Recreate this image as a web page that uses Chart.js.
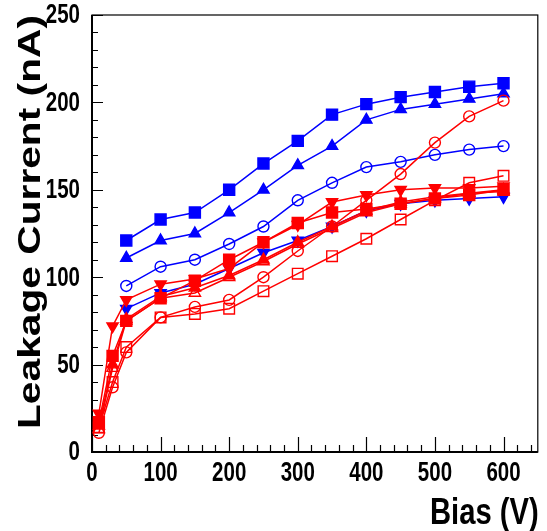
<!DOCTYPE html>
<html>
<head>
<meta charset="utf-8">
<script src="https://cdn.jsdelivr.net/npm/chart.js@4.4.1/dist/chart.umd.min.js"></script>
<style>
  html, body { margin: 0; padding: 0; background: #fff; }
  #wrap { width: 547px; height: 531px; position: relative; }
</style>
</head>
<body>
<div id="wrap"><canvas id="chart"></canvas></div>
<script>
// ---------------------------------------------------------------
// data
// ---------------------------------------------------------------
const biasV = [10, 30, 50, 100, 150, 200, 250, 300, 350, 400, 450, 500, 550, 600];

// blue sets (start at 50 V)
const blueFilledSquare = [null, null, 121, 133, 137, 150, 165, 178, 193, 199, 203, 206, 209, 211];
const blueFilledTri    = [null, null, 111, 121, 125, 137, 150, 164, 175, 190, 196, 199, 202, 205];
const blueOpenCircle   = [null, null, 95, 106, 110, 119, 129, 144, 154, 163, 166, 170, 173, 175];
const blueInvTri       = [null, null, 82, 91, 96, 105, 114, 121, 129, 138, 142, 144, 145, 146];

// red sets
const redInvTri      = [22, 72, 87, 96, 99, 105, 120, 130, 143, 147, 150, 151, 151, 152];
const redFilledSq    = [17, 55, 75, 88, 98, 110, 120, 131, 137, 139, 142, 145, 147, 150];
const redFilledTri   = [15, 50, 76, 89, 94, 101, 110, 120, 129, 138, 143, 146, 148, 150];
const redOpenTri     = [13, 48, 75, 88, 91, 100, 109, 119, 128, 137, 142, 145, 148, 149];
const redOpenCircle  = [11, 37, 57, 77, 83, 87, 100, 115, 129, 144, 159, 177, 192, 201];
const redOpenSquare  = [14, 40, 60, 77, 79, 82, 92, 102, 112, 122, 133, 144, 154, 158];

// axes
const xTickValues = [0, 100, 200, 300, 400, 500, 600];
const yTickValues = [0, 50, 100, 150, 200, 250];
const xTitle = 'Bias (V)';
const yTitle = 'Leakage Current (nA)';

const BLUE = '#0000ff';
const RED = '#ff0000';

function toPoints(arr) {
    return biasV.map((x, i) => ({ x: x, y: arr[i] })).filter(p => p.y !== null);
}

function makeSet(label, arr, color, style, filled, radius, rotation) {
    return {
        label: label,
        data: toPoints(arr),
        showLine: true,
        borderColor: color,
        borderWidth: 1.5,
        pointStyle: style,
        pointRadius: radius,
        pointRotation: rotation || 0,
        pointBorderColor: color,
        pointBorderWidth: 1.4,
        pointBackgroundColor: filled ? color : 'rgba(0,0,0,0)',
        fill: false,
        tension: 0
    };
}

// red first so it lands on top of blue
const datasets = [
    makeSet('red inv tri', redInvTri, RED, 'triangle', true, 6.5, 180),
    makeSet('red filled sq', redFilledSq, RED, 'rect', true, 7.8),
    makeSet('red filled tri', redFilledTri, RED, 'triangle', true, 6.5),
    makeSet('red open tri', redOpenTri, RED, 'triangle', false, 6.5),
    makeSet('red open circle', redOpenCircle, RED, 'circle', false, 5.5),
    makeSet('red open sq', redOpenSquare, RED, 'rect', false, 7.5),
    makeSet('blue filled sq', blueFilledSquare, BLUE, 'rect', true, 7.8),
    makeSet('blue filled tri', blueFilledTri, BLUE, 'triangle', true, 6.5),
    makeSet('blue open circle', blueOpenCircle, BLUE, 'circle', false, 5.5),
    makeSet('blue inv tri', blueInvTri, BLUE, 'triangle', true, 6.5, 180)
];

// draw text squeezed horizontally (condensed look)
function squeezedText(ctx, text, x, y, sx, align) {
    ctx.save();
    ctx.translate(x, y);
    ctx.scale(sx, 1);
    ctx.textAlign = align;
    ctx.fillText(text, 0, 0);
    ctx.restore();
}

// frame, inner ticks, tick labels and titles
const axesPlugin = {
    id: 'rootAxes',
    beforeDatasetsDraw(chart) {
        const ctx = chart.ctx;
        const a = chart.chartArea;
        const xs = chart.scales.x, ys = chart.scales.y;
        ctx.save();
        ctx.strokeStyle = '#000';
        ctx.lineWidth = 1.2;
        ctx.strokeRect(a.left, a.top, a.right - a.left, a.bottom - a.top);
        ctx.lineWidth = 2;
        ctx.beginPath();
        ctx.moveTo(a.left, a.top);
        ctx.lineTo(a.left, a.bottom);
        ctx.lineTo(a.right, a.bottom);
        ctx.stroke();

        ctx.lineWidth = 1.2;
        ctx.beginPath();
        for (let v = 0; v <= ys.max; v += 10) {
            const py = Math.round(ys.getPixelForValue(v)) + 0.5;
            const len = v % 50 === 0 ? 11 : 6;
            ctx.moveTo(a.left, py);
            ctx.lineTo(a.left + len, py);
        }
        for (let v = 0; v <= xs.max; v += 20) {
            const px = Math.round(xs.getPixelForValue(v)) + 0.5;
            const len = v % 100 === 0 ? 15 : 7;
            ctx.moveTo(px, a.bottom);
            ctx.lineTo(px, a.bottom - len);
        }
        ctx.stroke();
        ctx.restore();
    },
    afterDraw(chart) {
        const ctx = chart.ctx;
        const a = chart.chartArea;
        const xs = chart.scales.x, ys = chart.scales.y;
        ctx.save();
        ctx.fillStyle = '#000';
        ctx.font = 'bold 27px "Liberation Sans Narrow", "Liberation Sans", Arial, sans-serif';
        ctx.textBaseline = 'middle';
        yTickValues.forEach(v => {
            squeezedText(ctx, String(v), 80, ys.getPixelForValue(v) + 1, 0.76, 'right');
        });
        xTickValues.forEach(v => {
            squeezedText(ctx, String(v), xs.getPixelForValue(v), 474, 0.76, 'center');
        });

        // x title, right aligned to the frame
        ctx.font = 'bold 37px "Liberation Sans Narrow", "Liberation Sans", Arial, sans-serif';
        ctx.textBaseline = 'alphabetic';
        squeezedText(ctx, xTitle, a.right + 1, 524, 0.79, 'right');

        // y title, rotated and stretched to span the axis
        ctx.font = 'bold 31px "Liberation Sans", Arial, sans-serif';
        const w = ctx.measureText(yTitle).width;
        const want = 414;
        ctx.translate(40, 222);
        ctx.rotate(-Math.PI / 2);
        ctx.scale(want / w, 1);
        ctx.textAlign = 'center';
        ctx.textBaseline = 'alphabetic';
        ctx.fillText(yTitle, 0, 0);
        ctx.restore();
    }
};

const chart = new Chart(document.getElementById('chart').getContext('2d'), {
    type: 'scatter',
    data: { datasets: datasets },
    options: {
        responsive: true,
        maintainAspectRatio: false,
        animation: false,
        layout: { padding: { left: 92, top: 15, right: 6, bottom: 79 } },
        plugins: { legend: { display: false }, tooltip: { enabled: false } },
        scales: {
            x: { type: 'linear', min: 0, max: 650, display: false },
            y: { type: 'linear', min: 0, max: 250, display: false }
        }
    },
    plugins: [axesPlugin]
});
</script>
</body>
</html>
